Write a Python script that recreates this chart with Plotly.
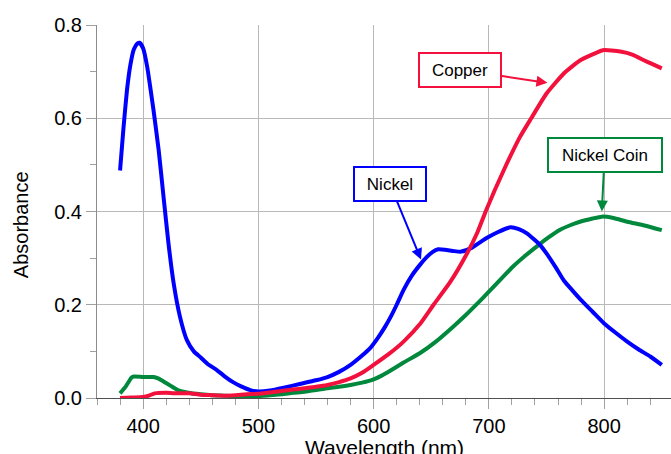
import plotly.graph_objects as go

# ---- data ----
nickel_wl = [380, 383, 386, 389, 392, 395, 397, 400, 403.5, 406, 409, 413.5, 418, 422, 426.5,
             432, 438, 444, 450, 456, 464, 471, 478, 485, 493, 500, 510, 522, 536, 550, 560,
             570, 580, 590, 597, 604, 610, 615, 620, 626, 633, 640, 646, 651, 656, 662, 670, 676,
             685, 698, 708, 718.5, 726, 733, 744.5, 750, 758, 765, 772, 780, 790, 800, 810,
             820, 830, 840, 850]
nickel_abs = [0.488, 0.58, 0.66, 0.715, 0.748, 0.76, 0.762, 0.75, 0.711, 0.67, 0.618, 0.532, 0.425,
              0.332, 0.246, 0.174, 0.124, 0.100, 0.087, 0.073, 0.060, 0.046, 0.034, 0.025, 0.017,
              0.014, 0.016, 0.022, 0.030, 0.038, 0.045, 0.056, 0.071, 0.091, 0.107, 0.130, 0.153,
              0.175, 0.200, 0.232, 0.262, 0.285, 0.302, 0.313, 0.319, 0.318, 0.315, 0.314, 0.322,
              0.343, 0.356, 0.366, 0.362, 0.353, 0.328, 0.310, 0.280, 0.252, 0.232, 0.210, 0.185,
              0.160, 0.140, 0.121, 0.104, 0.089, 0.071]

copper_wl = [380, 390, 400, 405, 410, 420, 430, 440, 450, 460, 470, 480, 490, 500, 510, 520, 530,
             540, 550, 560, 570, 580, 590, 600, 613, 626, 640, 652, 666.5, 681, 690, 698,
             713, 727, 737, 750, 765, 779, 790, 799, 814, 825, 834, 842, 850]
copper_abs = [0.0, 0.001, 0.002, 0.005, 0.010, 0.011, 0.010, 0.010, 0.007, 0.006, 0.005, 0.006,
              0.008, 0.009, 0.012, 0.015, 0.018, 0.021, 0.024, 0.028, 0.034, 0.042, 0.054, 0.071,
              0.094, 0.121, 0.158, 0.200, 0.249, 0.310, 0.355, 0.405, 0.489, 0.560,
              0.601, 0.653, 0.696, 0.724, 0.737, 0.746, 0.743, 0.736, 0.725, 0.716, 0.707]

coin_wl = [380, 385, 390, 392, 400, 405, 409, 413, 418, 424, 430, 436, 442, 450, 460, 470, 480,
           490, 500, 510, 520, 530, 540, 550, 560, 570, 580, 590, 600, 607, 614, 626, 640, 654,
           669, 680, 691, 700, 710, 721, 732, 743, 752, 761, 770, 779, 790, 798, 808, 820,
           835, 850]
coin_abs = [0.010, 0.025, 0.044, 0.046, 0.045, 0.045, 0.045, 0.042, 0.035, 0.026, 0.017, 0.013,
            0.010, 0.008, 0.006, 0.005, 0.004, 0.004, 0.004, 0.006, 0.008, 0.011, 0.0135, 0.017,
            0.021, 0.024, 0.028, 0.033, 0.040, 0.048, 0.058, 0.076, 0.096, 0.121, 0.153,
            0.178, 0.205, 0.228, 0.254, 0.282, 0.306, 0.328, 0.345, 0.360, 0.370, 0.378, 0.385,
            0.389, 0.386, 0.378, 0.370, 0.360]

x_ticks = [400, 500, 600, 700, 800]
y_ticks = [0.0, 0.2, 0.4, 0.6, 0.8]
y_tick_labels = ["0.0", "0.2", "0.4", "0.6", "0.8"]

BLUE = "#0000FF"
RED = "#F2103C"
GREEN = "#00883C"
FONT = "Liberation Sans, Arial, sans-serif"

fig = go.Figure()
for wl, ab, col, name in [(coin_wl, coin_abs, GREEN, "Nickel Coin"),
                          (nickel_wl, nickel_abs, BLUE, "Nickel"),
                          (copper_wl, copper_abs, RED, "Copper")]:
    fig.add_trace(go.Scatter(x=wl, y=ab, mode="lines", name=name, cliponaxis=False,
                             line=dict(color=col, width=4, shape="spline", smoothing=0.5)))

# labelled call-outs (tail = box centre, head = arrow tip), data coordinates
callouts = [
    ("Copper", RED, 674.6, 0.704, 750.8, 0.676, 76),
    ("Nickel", BLUE, 614.2, 0.458, 641.1, 0.297, 66),
    ("Nickel Coin", GREEN, 800.4, 0.521, 798.0, 0.400, 108),
]
for text, col, bx, by, tx, ty, w in callouts:
    fig.add_annotation(x=tx, y=ty, ax=bx, ay=by, axref="x", ayref="y", xref="x", yref="y",
                       text=text, showarrow=True, arrowhead=2, arrowsize=1.1, arrowwidth=2,
                       arrowcolor=col, bordercolor=col, borderwidth=2, borderpad=2,
                       bgcolor="white", width=w, height=28,
                       font=dict(family=FONT, size=17, color="black"))

# axis titles, placed like the reference
fig.add_annotation(text="Absorbance", xref="paper", yref="paper", x=-0.132, y=0.464,
                   xanchor="center", yanchor="middle", textangle=-90, showarrow=False,
                   font=dict(family=FONT, size=20, color="black"))
fig.add_annotation(text="Wavelength (nm)", xref="paper", yref="paper", x=0.5, y=-0.097,
                   xanchor="center", yanchor="top", showarrow=False,
                   font=dict(family=FONT, size=21, color="black"))

fig.update_layout(
    width=671, height=454,
    margin=dict(l=97, r=0, t=25, b=56, autoexpand=False),
    paper_bgcolor="white", plot_bgcolor="white",
    showlegend=False,
    font=dict(family=FONT, size=20, color="black"),
)
fig.update_xaxes(
    range=[360, 858], tickvals=x_ticks, ticks="outside", ticklen=10, tickcolor="#a0a0a0",
    showgrid=True, gridcolor="#b8b8b8", gridwidth=1, automargin=False,
    showline=True, linecolor="#505050", linewidth=1, zeroline=False,
    minor=dict(dtick=20, tick0=400, ticks="outside", ticklen=6, tickcolor="#a0a0a0", showgrid=False),
    tickfont=dict(size=20),
)
fig.update_yaxes(
    range=[0, 0.8], tickvals=y_ticks, ticktext=y_tick_labels, ticks="outside", ticklen=10,
    tickcolor="#a0a0a0", showgrid=True, gridcolor="#b8b8b8", gridwidth=1, automargin=False,
    showline=True, linecolor="#8c8c8c", linewidth=1, zeroline=False,
    minor=dict(dtick=0.1, ticks="outside", ticklen=6, tickcolor="#a0a0a0", showgrid=False),
    tickfont=dict(size=20),
)

fig.write_html("out.html", config={"displayModeBar": False})

# remove the browser's default 8px page margin so the figure fills the window exactly
with open("out.html", encoding="utf-8") as f:
    html = f.read()
html = html.replace("<head>", "<head><style>html,body{margin:0;padding:0;overflow:hidden;}</style>", 1)
with open("out.html", "w", encoding="utf-8") as f:
    f.write(html)
